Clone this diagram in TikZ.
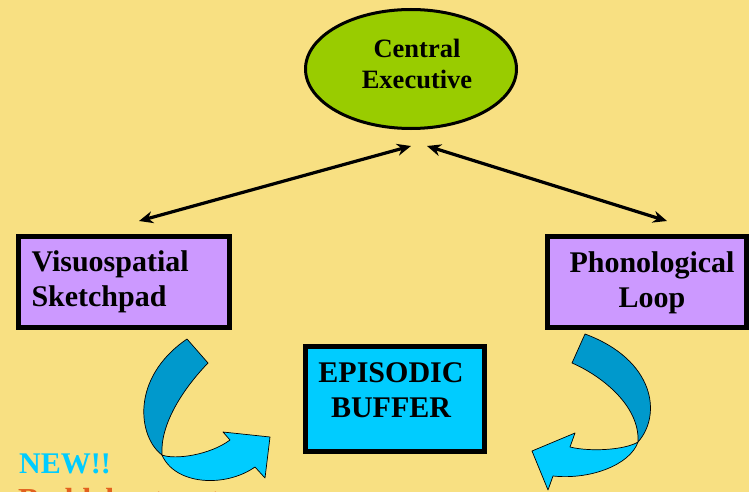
\documentclass[tikz,border=0pt]{standalone}
\usepackage{fontspec}
\setmainfont{Liberation Serif}
\usetikzlibrary{arrows.meta,shapes.geometric}

\definecolor{slide}{RGB}{248,224,130}
\definecolor{cegreen}{RGB}{153,204,0}
\definecolor{lilac}{RGB}{204,153,255}
\definecolor{skyblue}{RGB}{0,204,255}
\definecolor{deepblue}{RGB}{0,153,204}
\definecolor{cite}{RGB}{226,96,30}

\tikzset{
  heading/.style={font=\bfseries\fontsize{30}{35}\selectfont, inner sep=0pt},
  ceheading/.style={font=\bfseries\fontsize{26.5}{31}\selectfont, inner sep=0pt, align=center},
  compbox/.style={draw=black, line width=5pt, inner sep=0pt},
  link/.style={line width=3.2pt, {Stealth[length=14pt,width=12pt]}-{Stealth[length=14pt,width=12pt]}},
  ribbon/.style={draw=black, line width=0.7pt, line join=round}
}

\begin{document}
\begin{tikzpicture}[x=1pt,y=-1pt]
  % slide background
  \fill[slide] (0,0) rectangle (749,492);
  \useasboundingbox (0,0) rectangle (749,492);
  \clip (0,0) rectangle (749,492);

  % central executive
  \node[ellipse, draw=black, line width=3pt, fill=cegreen,
        minimum width=211pt, minimum height=119pt, inner sep=0pt] (ce) at (411,69) {};
  \node[ceheading] (cetext) at (417,63.5) {Central\\Executive};

  % slave systems
  \node[compbox, fill=lilac, minimum width=211pt, minimum height=91pt,
        text width=185pt, align=left, heading] (vs) at (124,282)
        {Visuospatial\\Sketchpad};
  \node[compbox, fill=lilac, minimum width=199pt, minimum height=91pt] (pl) at (647,282) {};
  \node[heading, align=center] (pltext) at (652,283) {Phonological\\Loop};

  % episodic buffer
  \node[compbox, fill=skyblue, minimum width=179pt, minimum height=105pt] (eb) at (395,399) {};
  \node[heading, align=center] (ebtext) at (391,390.5) {EPISODIC\\BUFFER};

  % two-way links to the central executive
  \coordinate (ceL) at (411,146);
  \coordinate (ceR) at (427,146);
  \coordinate (vsTop) at (139,221);
  \coordinate (plTop) at (667,221);
  \draw[link] (vsTop) -- (ceL);
  \draw[link] (ceR) -- (plTop);

  % curved ribbon arrow, left
  \filldraw[ribbon, fill=deepblue]
    (187,339) -- (208,363) .. controls (182,390) and (160,425) .. (162,455)
    .. controls (138,437) and (130,378) .. cycle;
  \filldraw[ribbon, fill=skyblue]
    (162,455) .. controls (175,460) and (210,455) .. (230,440)
    -- (223,432) -- (270,437) -- (265,478) -- (255,467)
    .. controls (225,488) and (175,485) .. cycle;

  % curved ribbon arrow, right
  \filldraw[ribbon, fill=deepblue]
    (585,334) -- (572,363) .. controls (600,375) and (640,405) .. (638,442)
    .. controls (662,415) and (655,360) .. cycle;
  \filldraw[ribbon, fill=skyblue]
    (638,442) .. controls (625,450) and (590,452) .. (570,447)
    -- (575,433) -- (532,451) -- (548,490) -- (553,476)
    .. controls (590,480) and (630,465) .. cycle;

  % side notes
  \node[heading, text=skyblue, anchor=base west] (newnote) at (19,473) {NEW!!};
  \node[anchor=base west, inner sep=0pt, text=cite] (citenote) at (18,510)
    {\bfseries\fontsize{32}{36}\selectfont Baddeley\mdseries\fontsize{27}{32}\selectfont\ (2000)};
\end{tikzpicture}
\end{document}
